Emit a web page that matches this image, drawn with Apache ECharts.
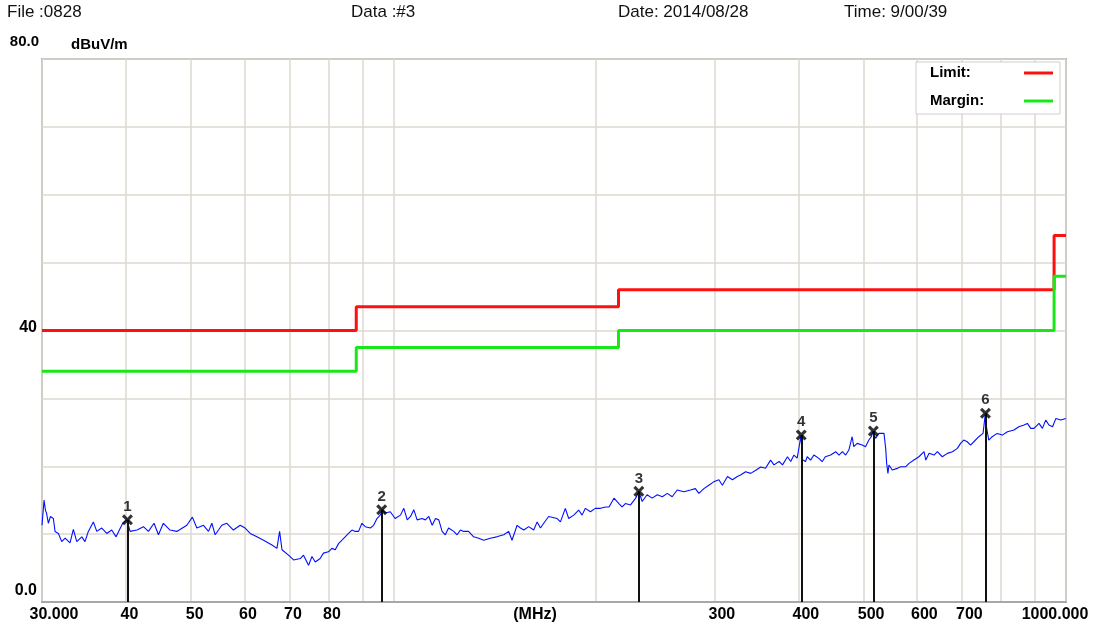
<!DOCTYPE html>
<html><head><meta charset="utf-8">
<script src="https://cdn.jsdelivr.net/npm/echarts@6/dist/echarts.min.js"></script>
<style>html,body{margin:0;padding:0;background:#fff}#c{width:1102px;height:628px}</style>
</head><body><div id="c"></div><script>
// ---- data ----
const traceFreq = [30.0,30.21,30.36,30.47,30.66,30.88,31.19,31.37,31.73,32.10,32.47,33.02,33.40,33.79,34.38,34.76,35.16,35.77,36.19,36.81,37.45,38.09,38.66,39.55,40.14,40.56,41.53,42.46,43.19,44.03,44.70,45.46,46.51,47.60,49.26,50.21,50.98,52.15,53.06,53.67,54.28,55.53,56.49,57.78,59.13,60.15,61.20,62.62,64.06,65.93,67.07,67.68,68.24,69.77,71.0,72.65,
73.46,74.73,75.61,76.47,77.77,78.65,80.0,80.96,81.89,82.82,83.79,84.72,85.69,86.72,87.71,88.70,89.73,90.76,92.34,93.39,94.47,95.53,96.20,97.2,98.87,100.53,102.38,103.56,104.79,105.98,107.16,108.39,110.2,111.5,112.8,114.14,115.44,116.74,118.08,119.37,120.72,122.86,124.31,125.72,127.13,129.27,131.53,133.84,136.16,139.26,142.35,145.82,148.31,150.0,152.66,154.41,156.17,158.83,161.58,163.5,165.37,167.23,170.05,
175.08,177.06,180.06,182.15,185.32,188.48,190.67,192.87,196.2,199.53,203.1,206.7,209.1,212.7,216.3,218.7,221.2,225.1,229.1,231.6,234.3,238.2,242.4,246.7,251.0,255.3,259.6,264.1,270.2,276.4,281.1,284.4,289.4,294.3,299.3,304.6,308.3,313.7,319.1,324.5,328.1,333.8,339.7,345.6,351.5,357.4,363.6,367.9,374.4,378.8,385.3,389.6,393.9,398.3,403.7,405.1,409.8,412.3,417.0,
421.8,429.0,433.9,438.6,446.6,454.5,459.7,465.0,470.2,475.4,480.8,483.5,489.2,497.6,503.3,509.1,513.3,516.8,520.9,527.0,536.2,539.3,541.1,543.5,545.4,551.6,561.4,567.9,577.7,584.2,594.1,604.3,615.0,618.7,625.8,636.5,643.8,654.7,666.2,677.7,689.3,696.9,704.6,713.0,721.2,729.4,741.8,752.7,758.8,761.5,767.6,776.7,790.0,804.2,818.3,836.8,850.9,866.0,876.2,886.2,896.1,911.7,922.4,932.9,943.3,955.0,966.0,982.6,999.3];
const traceLevel = [11.3,15.0,13.5,13.1,11.6,12.6,12.3,10.4,10.1,8.9,9.4,8.7,10.7,8.9,9.6,8.9,10.4,11.8,10.4,10.9,10.1,10.6,9.6,11.6,12.1,10.4,10.6,11.1,10.4,11.6,9.9,11.6,10.6,10.4,11.3,12.5,10.9,11.3,10.4,11.6,9.9,11.3,11.6,10.6,11.3,10.9,10.1,9.6,9.1,8.4,7.9,10.4,7.7,6.9,6.2,6.4,
6.9,5.4,6.7,5.9,6.4,7.2,7.4,7.9,7.7,8.6,9.1,9.6,10.1,10.6,10.4,10.4,11.6,11.1,10.9,11.3,12.3,12.8,13.6,13.1,13.3,12.3,12.8,13.8,12.1,12.6,13.6,12.1,12.3,12.1,12.6,11.3,12.3,12.1,10.4,9.9,10.9,10.4,9.9,10.6,10.4,10.4,9.6,9.4,9.1,9.4,9.6,9.9,10.4,9.1,11.3,10.9,10.6,11.1,10.6,11.8,10.9,11.6,12.6,
12.3,11.8,13.8,12.3,12.8,13.55,12.8,13.8,13.3,13.8,13.8,14.0,14.0,15.3,14.5,14.0,14.5,14.3,15.3,16.25,14.8,15.8,15.3,15.8,15.5,16.0,15.5,16.5,16.25,16.5,16.7,16.0,16.7,17.2,17.7,18.0,17.2,18.5,18.0,18.5,18.7,19.2,18.95,19.4,19.9,19.7,20.9,20.2,20.7,20.2,21.4,20.7,21.65,21.2,24.6,21.0,20.7,21.4,20.9,
21.65,21.16,20.67,21.4,21.65,22.14,21.65,22.14,21.65,22.39,24.35,22.88,23.37,23.12,22.88,23.86,24.35,25.2,24.1,24.84,24.84,22.63,20.42,18.95,20.18,19.44,19.69,19.93,19.93,20.42,20.91,21.4,22.14,20.91,21.9,21.65,22.14,21.4,21.9,22.14,22.63,23.37,23.86,23.61,23.12,23.61,24.35,24.84,27.8,25.82,23.86,24.35,24.84,24.59,25.08,25.33,25.82,26.07,26.31,25.58,25.58,26.31,25.58,26.8,26.07,25.82,27.05,26.8,27.05];
const limitFreq = [30, 88, 216, 960, 1000];
const limitLevel = [40, 43.5, 46, 54, 54];
const marginLevel = [34, 37.5, 40, 48, 48];
const markerNo = ['1','2','3','4','5','6'];
const markerFreq = [40.2, 96.0, 231.6, 403.9, 517, 759];
const markerLevel = [12.1, 13.6, 16.3, 24.6, 25.2, 27.8];
const xGridTicks = [30,40,50,60,70,80,90,100,200,300,400,500,600,700,800,900,1000];
const xLabelTicks = [30,40,50,60,70,80,300,400,500,600,700,1000];
const yLabelTicks = [0,40,80];
const headerTexts = ['File :0828','Data :#3','Date: 2014/08/28','Time: 9/00/39'];
const legendNames = ['Limit','Margin'];
const yUnit = 'dBuV/m';
const xUnit = '(MHz)';

// ---- chart ----
const FONT = '"Liberation Sans", Arial, sans-serif';
const chart = echarts.init(document.getElementById('c'), null, {renderer: 'canvas'});
const zip = (xs, ys) => xs.map((x, i) => [x, ys[i]]);
const headerLeft = [7, 351, 618, 844];
const bold = (size, extra) => Object.assign({fontFamily: FONT, fontSize: size, fontWeight: 'bold', color: '#000'}, extra || {});

const option = {
  animation: false,
  backgroundColor: '#fff',
  grid: {left: 42, right: 36, top: 59, bottom: 26, show: true, borderColor: '#a8a8a8', borderWidth: 2,
    outerBoundsMode: 'none', containLabel: false},
  graphic: headerTexts.map((t, i) => ({
    type: 'text', left: headerLeft[i], top: 4,
    style: {text: t, fontFamily: FONT, fontSize: 17, fill: '#111'}
  })),
  legend: {
    data: legendNames, orient: 'vertical', left: 916, top: 62, align: 'right',
    icon: 'rect', itemWidth: 29, itemHeight: 3, itemGap: 12,
    padding: [3, 7, 5, 14], backgroundColor: '#fff', borderColor: '#cfcfcf', borderWidth: 1,
    formatter: n => '{t|' + n + ':}', selectedMode: false,
    textStyle: bold(15, {lineHeight: 16, rich: {t: bold(15, {width: 89, align: 'left', lineHeight: 16})}})
  },
  xAxis: {
    type: 'log', logBase: 10, min: 30, max: 1000,
    axisLine: {show: true, lineStyle: {color: '#a8a8a8', width: 2}},
    axisTick: {show: false, customValues: xGridTicks},
    splitLine: {show: true, lineStyle: {color: '#dcd8d0', width: 1.5}},
    minorSplitLine: {show: false},
    axisLabel: Object.assign(bold(16), {
      customValues: xLabelTicks, margin: 5, hideOverlap: false,
      formatter: v => {
        const r = Math.round(v);
        if (r === 30) return '{l|30.000}';
        if (r === 1000) return '{r|1000.000}';
        return (r < 100 ? '{s|' : '{m|') + r + '}';
      },
      rich: {
        l: bold(16, {padding: [0, 0, 0, 24]}), r: bold(16, {padding: [0, 22, 0, 0]}),
        s: bold(16, {padding: [0, 0, 0, 7]}), m: bold(16, {padding: [0, 0, 0, 15]})
      }
    }),
    name: xUnit, nameLocation: 'middle', nameGap: 5, nameMoveOverlap: false,
    nameTextStyle: bold(16, {padding: [0, 38, 0, 0], verticalAlign: 'top'})
  },
  yAxis: {
    type: 'value', min: 0, max: 80, interval: 10,
    axisLine: {show: false}, axisTick: {show: false},
    splitLine: {show: true, lineStyle: {color: '#dcd8d0', width: 1.5}},
    axisLabel: Object.assign(bold(16), {
      customValues: yLabelTicks, margin: 5, verticalAlign: 'middle',
      formatter: v => v === 80 ? '{a|80.0}' : v === 40 ? '{b|40}' : '{c|0.0}',
      rich: {a: bold(15, {padding: [0, -2, 34, 0]}), b: bold(16, {padding: [0, 0, 6, 0]}), c: bold(16, {padding: [0, 0, 22, 0]})}
    }),
    name: yUnit, nameLocation: 'end', nameGap: 7, nameMoveOverlap: false,
    nameTextStyle: bold(15, {align: 'left', padding: [0, 0, 0, 29]})
  },
  series: [
    {
      name: 'trace', type: 'line', data: zip(traceFreq, traceLevel), showSymbol: false, symbol: 'none',
      lineStyle: {color: '#0010ff', width: 1.1}, itemStyle: {color: '#0010ff'}, z: 3, silent: true
    },
    {
      name: 'Limit', type: 'line', step: 'end', data: zip(limitFreq, limitLevel), symbol: 'none',
      lineStyle: {color: '#ff1010', width: 3}, itemStyle: {color: '#ff1010'}, z: 2, silent: true
    },
    {
      name: 'Margin', type: 'line', step: 'end', data: zip(limitFreq, marginLevel), symbol: 'none',
      lineStyle: {color: '#18e818', width: 3}, itemStyle: {color: '#18e818'}, z: 2, silent: true
    },
    {
      name: 'markers', type: 'scatter', z: 5, silent: true,
      data: markerFreq.map((f, i) => [f, markerLevel[i]]),
      symbol: 'path://M0,2L2,0L5,3L8,0L10,2L7,5L10,8L8,10L5,7L2,10L0,8L3,5Z',
      symbolSize: [11, 11], itemStyle: {color: '#000'},
      label: Object.assign(bold(15), {show: true, position: 'top', distance: 0, formatter: p => markerNo[p.dataIndex]}),
      markLine: {
        silent: true, symbol: 'none', label: {show: false}, animation: false,
        lineStyle: {color: '#111', width: 2, type: 'solid'},
        data: markerFreq.map((f, i) => [{coord: [f, markerLevel[i]]}, {coord: [f, 0]}])
      }
    }
  ]
};
chart.setOption(option);
</script></body></html>
